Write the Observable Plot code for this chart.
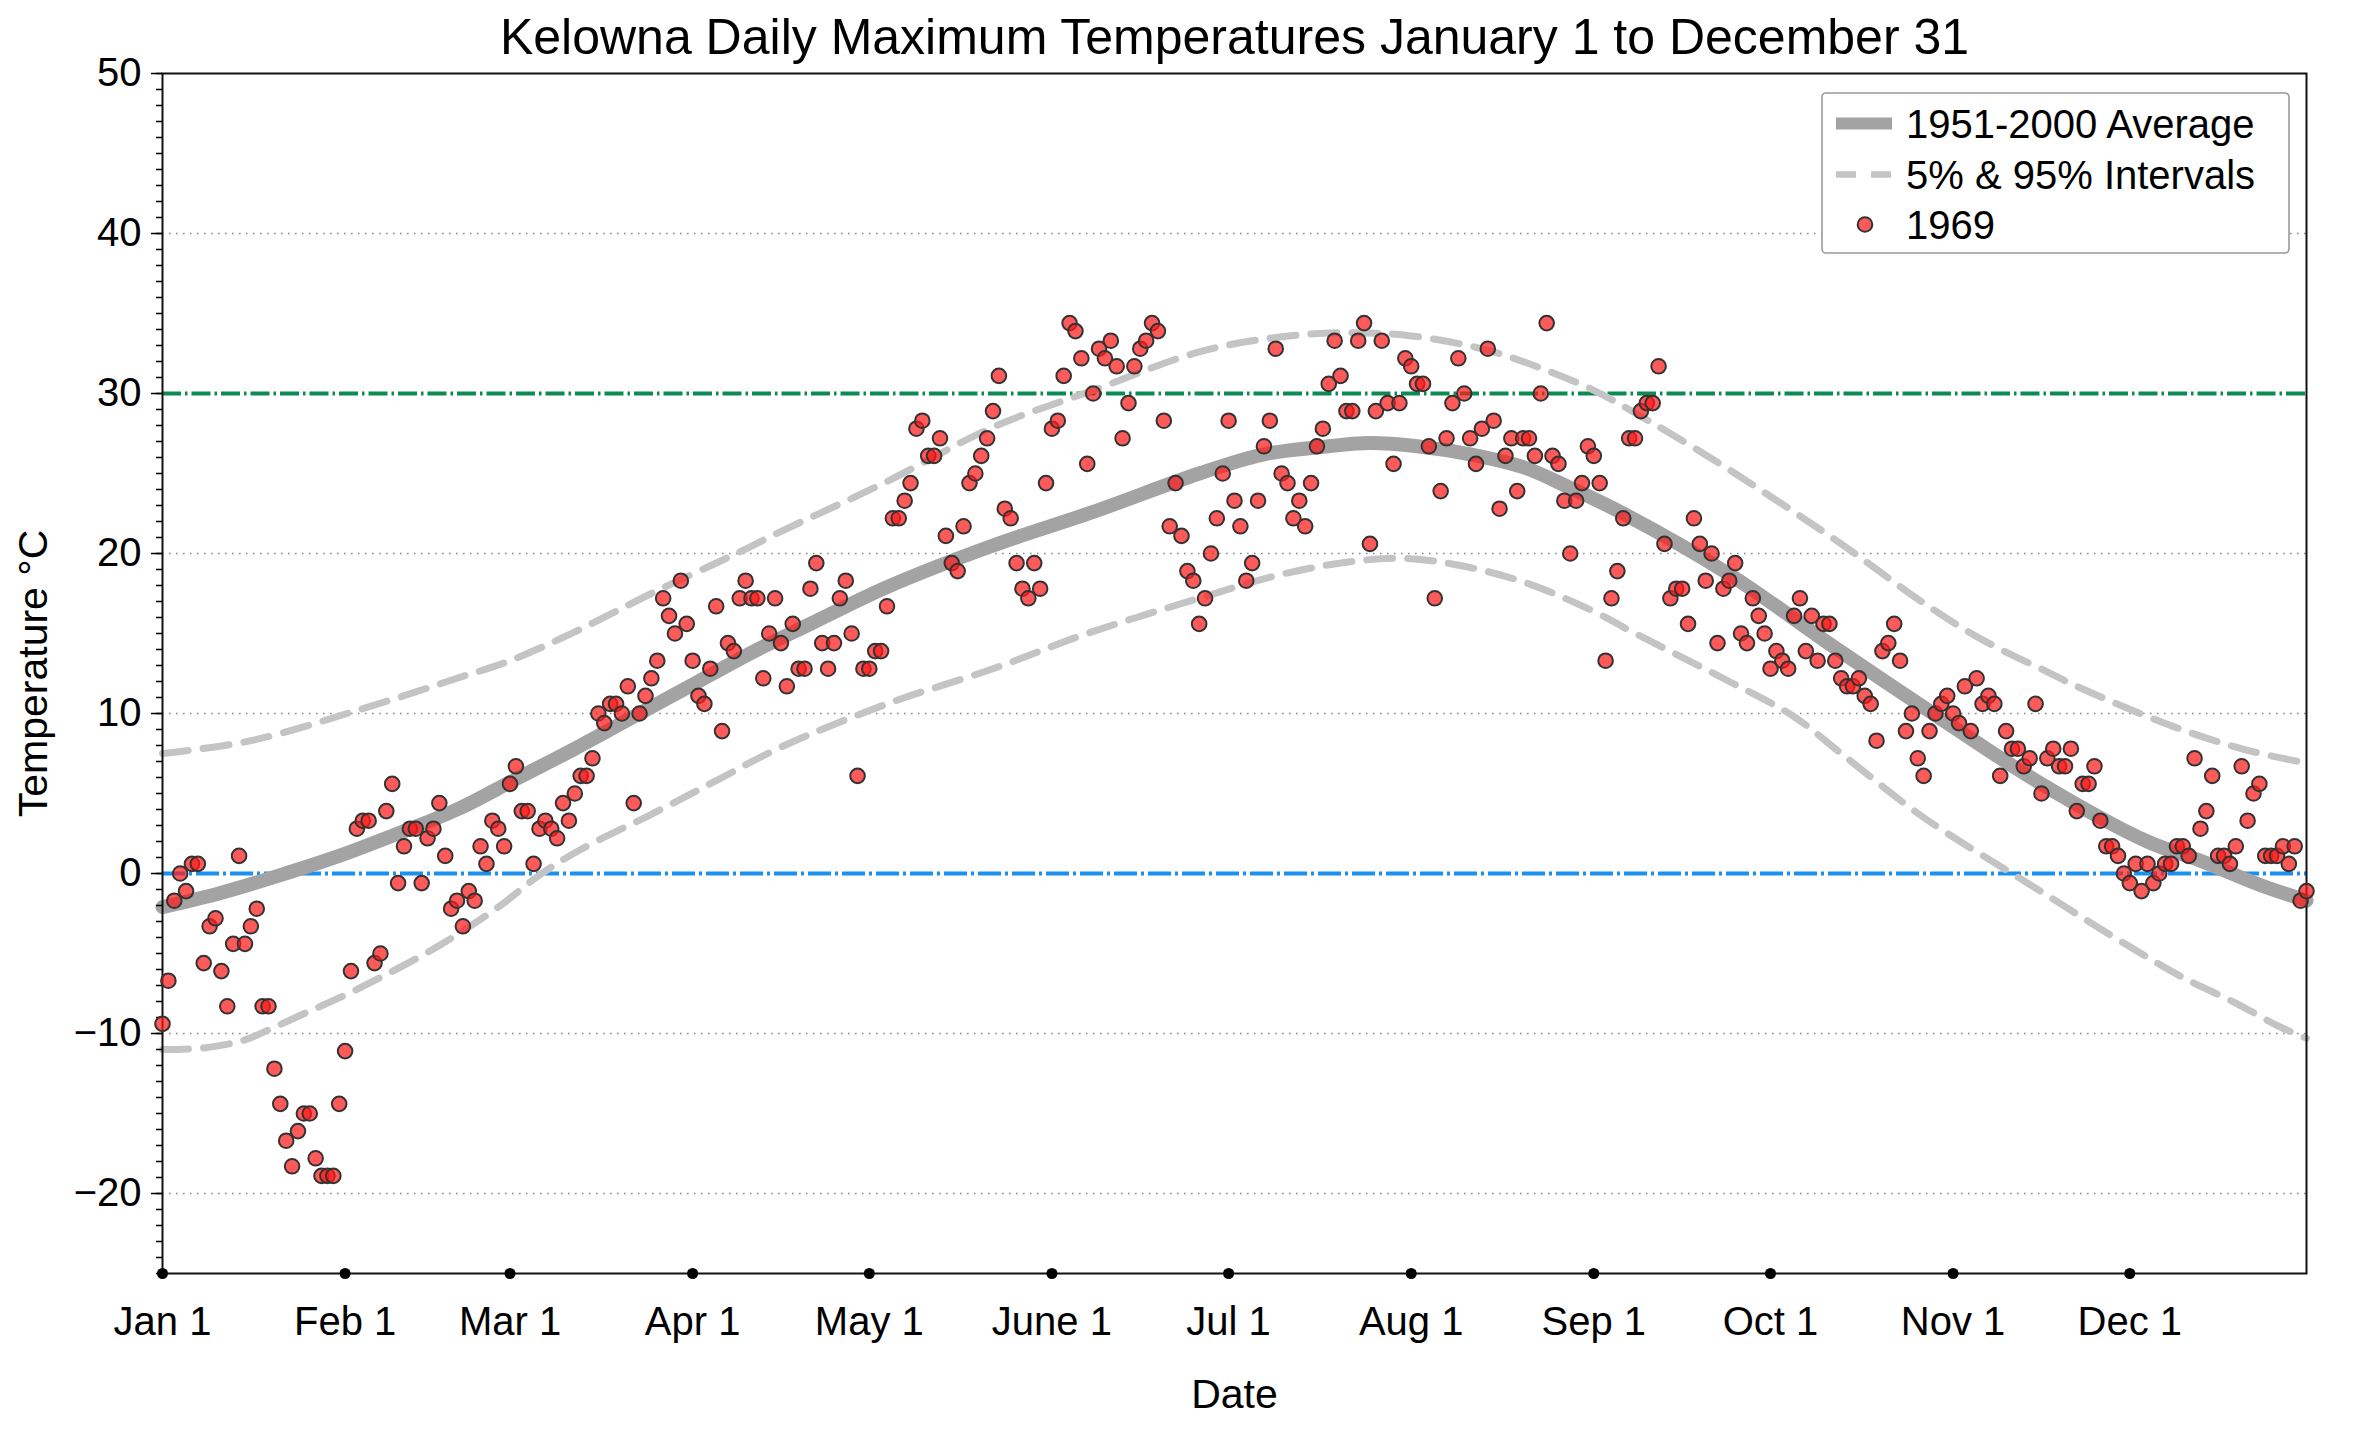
<!DOCTYPE html>
<html>
<head>
<meta charset="utf-8">
<script src="https://cdn.jsdelivr.net/npm/d3@7"></script>
<script src="https://cdn.jsdelivr.net/npm/@observablehq/plot@0.6"></script>
<style>
html, body { margin: 0; padding: 0; background: #fff; }
#chart svg { display: block; }
</style>
</head>
<body>
<div id="chart"></div>
<script>
// ---------- data ----------
const titleText = "Kelowna Daily Maximum Temperatures January 1 to December 31";
const yLabel = "Temperature °C";
const xLabel = "Date";
const seriesLabels = ["1951-2000 Average", "5% & 95% Intervals", "1969"];

// 1969 daily maximum temperatures (°C), Jan 1 .. Dec 31
const temps1969 = [
  -9.4, -6.7, -1.7, 0.0, -1.1, 0.6, 0.6, -5.6, -3.3, -2.8,
  -6.1, -8.3, -4.4, 1.1, -4.4, -3.3, -2.2, -8.3, -8.3, -12.2,
  -14.4, -16.7, -18.3, -16.1, -15.0, -15.0, -17.8, -18.9, -18.9, -18.9,
  -14.4, -11.1, -6.1, 2.8, 3.3, 3.3, -5.6, -5.0, 3.9, 5.6,
  -0.6, 1.7, 2.8, 2.8, -0.6, 2.2, 2.8, 4.4, 1.1, -2.2,
  -1.7, -3.3, -1.1, -1.7, 1.7, 0.6, 3.3, 2.8, 1.7, 5.6,
  6.7, 3.9, 3.9, 0.6, 2.8, 3.3, 2.8, 2.2, 4.4, 3.3,
  5.0, 6.1, 6.1, 7.2, 10.0, 9.4, 10.6, 10.6, 10.0, 11.7,
  4.4, 10.0, 11.1, 12.2, 13.3, 17.2, 16.1, 15.0, 18.3, 15.6,
  13.3, 11.1, 10.6, 12.8, 16.7, 8.9, 14.4, 13.9, 17.2, 18.3,
  17.2, 17.2, 12.2, 15.0, 17.2, 14.4, 11.7, 15.6, 12.8, 12.8,
  17.8, 19.4, 14.4, 12.8, 14.4, 17.2, 18.3, 15.0, 6.1, 12.8,
  12.8, 13.9, 13.9, 16.7, 22.2, 22.2, 23.3, 24.4, 27.8, 28.3,
  26.1, 26.1, 27.2, 21.1, 19.4, 18.9, 21.7, 24.4, 25.0, 26.1,
  27.2, 28.9, 31.1, 22.8, 22.2, 19.4, 17.8, 17.2, 19.4, 17.8,
  24.4, 27.8, 28.3, 31.1, 34.4, 33.9, 32.2, 25.6, 30.0, 32.8,
  32.2, 33.3, 31.7, 27.2, 29.4, 31.7, 32.8, 33.3, 34.4, 33.9,
  28.3, 21.7, 24.4, 21.1, 18.9, 18.3, 15.6, 17.2, 20.0, 22.2,
  25.0, 28.3, 23.3, 21.7, 18.3, 19.4, 23.3, 26.7, 28.3, 32.8,
  25.0, 24.4, 22.2, 23.3, 21.7, 24.4, 26.7, 27.8, 30.6, 33.3,
  31.1, 28.9, 28.9, 33.3, 34.4, 20.6, 28.9, 33.3, 29.4, 25.6,
  29.4, 32.2, 31.7, 30.6, 30.6, 26.7, 17.2, 23.9, 27.2, 29.4,
  32.2, 30.0, 27.2, 25.6, 27.8, 32.8, 28.3, 22.8, 26.1, 27.2,
  23.9, 27.2, 27.2, 26.1, 30.0, 34.4, 26.1, 25.6, 23.3, 20.0,
  23.3, 24.4, 26.7, 26.1, 24.4, 13.3, 17.2, 18.9, 22.2, 27.2,
  27.2, 28.9, 29.4, 29.4, 31.7, 20.6, 17.2, 17.8, 17.8, 15.6,
  22.2, 20.6, 18.3, 20.0, 14.4, 17.8, 18.3, 19.4, 15.0, 14.4,
  17.2, 16.1, 15.0, 12.8, 13.9, 13.3, 12.8, 16.1, 17.2, 13.9,
  16.1, 13.3, 15.6, 15.6, 13.3, 12.2, 11.7, 11.7, 12.2, 11.1,
  10.6, 8.3, 13.9, 14.4, 15.6, 13.3, 8.9, 10.0, 7.2, 6.1,
  8.9, 10.0, 10.6, 11.1, 10.0, 9.4, 11.7, 8.9, 12.2, 10.6,
  11.1, 10.6, 6.1, 8.9, 7.8, 7.8, 6.7, 7.2, 10.6, 5.0,
  7.2, 7.8, 6.7, 6.7, 7.8, 3.9, 5.6, 5.6, 6.7, 3.3,
  1.7, 1.7, 1.1, 0.0, -0.6, 0.6, -1.1, 0.6, -0.6, 0.0,
  0.6, 0.6, 1.7, 1.7, 1.1, 7.2, 2.8, 3.9, 6.1, 1.1,
  1.1, 0.6, 1.7, 6.7, 3.3, 5.0, 5.6, 1.1, 1.1, 1.1,
  1.7, 0.6, 1.7, -1.7, -1.1
];

// 1951-2000 average, read at sample days (day 0 = Jan 1)
const avgDays  = [0, 10, 20, 30, 40, 50, 60, 70, 80, 90, 100, 110, 123, 141, 158, 176, 187, 198, 205, 213, 222, 231, 239, 248, 266, 284, 301, 319, 337, 346, 356, 364];
const avgTemps = [-2.1, -1.2, -0.1, 1.1, 2.5, 4.0, 5.9, 7.8, 9.8, 11.8, 13.8, 15.6, 17.9, 20.5, 22.6, 25.0, 26.2, 26.7, 26.9, 26.7, 26.2, 25.4, 24.1, 22.5, 18.7, 14.1, 9.9, 5.6, 2.0, 0.8, -0.7, -1.7];

// 95% interval
const highDays  = [0, 15, 34, 50, 59, 70, 83, 98, 104, 123, 141, 158, 176, 189, 201, 212, 225, 236, 243, 249, 264, 285, 299, 309, 320, 325, 342, 354, 364];
const highTemps = [7.5, 8.3, 10.3, 12.2, 13.3, 15.1, 17.5, 20.1, 21.2, 24.5, 27.9, 30.2, 32.6, 33.5, 33.8, 33.6, 32.7, 31.3, 30.2, 29.0, 25.7, 20.6, 16.9, 14.6, 12.6, 11.7, 9.1, 7.7, 6.9];

// 5% interval
const lowDays  = [0, 7, 14, 19, 25, 31, 37, 47, 57, 64, 71, 83, 94, 105, 123, 141, 157, 176, 190, 202, 211, 221, 232, 244, 249, 266, 277, 285, 299, 314, 321, 327, 335, 343, 352, 359, 364];
const lowTemps = [-11.0, -10.9, -10.4, -9.6, -8.6, -7.6, -6.5, -4.5, -2.1, -0.1, 1.5, 3.7, 5.8, 7.9, 10.6, 12.8, 15.0, 17.2, 18.7, 19.5, 19.7, 19.2, 18.1, 16.2, 15.2, 12.0, 9.8, 7.5, 3.5, 0.0, -1.6, -3.0, -4.8, -6.5, -8.1, -9.5, -10.3];

const monthLabels = ["Jan 1", "Feb 1", "Mar 1", "Apr 1", "May 1", "June 1", "Jul 1", "Aug 1", "Sep 1", "Oct 1", "Nov 1", "Dec 1"];
const yTicks = [-20, -10, 0, 10, 20, 30, 40, 50];
const gridLevels = [-20, -10, 10, 20, 40];
const hotLevel = [30];
const freezeLevel = [0];

// ---------- build tables ----------
const YEAR = 1969;
const dayDate = (d) => new Date(Date.UTC(YEAR, 0, 1 + d));
const obs = temps1969.map((t, i) => ({date: dayDate(i), t}));
const avg = avgDays.map((d, i) => ({date: dayDate(d), t: avgTemps[i]}));
const high = highDays.map((d, i) => ({date: dayDate(d), t: highTemps[i]}));
const low = lowDays.map((d, i) => ({date: dayDate(d), t: lowTemps[i]}));
const monthStarts = monthLabels.map((_, m) => new Date(Date.UTC(YEAR, m, 1)));
const minorTicks = d3.range(-25, 51, 1);

const FONT = "'Liberation Sans', Arial, Helvetica, sans-serif";
const fmtY = (d) => d < 0 ? "\u2212" + Math.abs(d) : String(d);

const W = 2360, H = 1432;
const mL = 162, mR = 54, mT = 73, mB = 159;

const AVG_COLOR = "#a3a3a3", BAND_COLOR = "#c4c4c4";
const BAND_DASH = "26,15";
const DOT_R = 7.3;

const chart = Plot.plot({
  width: W,
  height: H,
  marginLeft: mL,
  marginRight: mR,
  marginTop: mT,
  marginBottom: mB,
  style: {fontFamily: FONT, fontSize: "40px", background: "#fff", color: "#000", overflow: "visible"},
  x: {type: "utc", domain: [dayDate(0), dayDate(364)]},
  y: {domain: [-25, 50]},
  marks: [
    Plot.ruleY(gridLevels, {stroke: "#8a8a8a", strokeWidth: 1.6, strokeDasharray: "1.6,5.4"}),
    Plot.ruleY(hotLevel, {stroke: "#0b8a52", strokeWidth: 4, strokeDasharray: "19,4,2.5,4"}),
    Plot.ruleY(freezeLevel, {stroke: "#1a90f0", strokeWidth: 4, strokeDasharray: "23,4,3,4"}),
    Plot.line(high, {x: "date", y: "t", curve: "catmull-rom", stroke: BAND_COLOR, strokeWidth: 7, strokeDasharray: BAND_DASH}),
    Plot.line(low, {x: "date", y: "t", curve: "catmull-rom", stroke: BAND_COLOR, strokeWidth: 7, strokeDasharray: BAND_DASH}),
    Plot.line(avg, {x: "date", y: "t", curve: "catmull-rom", stroke: AVG_COLOR, strokeWidth: 14}),
    Plot.frame({stroke: "#111", strokeWidth: 2}),
    Plot.axisY(minorTicks, {tickSize: 6, tickFormat: () => "", label: null, strokeWidth: 1.5}),
    Plot.axisY(yTicks, {tickSize: 11, tickPadding: 10, tickFormat: fmtY, label: null, fontSize: 40, strokeWidth: 1.5}),
    Plot.axisX(monthStarts, {tickSize: 0, tickPadding: 33, tickFormat: (d) => monthLabels[d.getUTCMonth()], label: null, fontSize: 40}),
    Plot.dot(monthStarts, {x: (d) => d, y: -25, r: 5.5, fill: "#000", stroke: "none"}),
    Plot.dot(obs, {x: "date", y: "t", r: DOT_R, fill: "#ff1a1a", fillOpacity: 0.72, stroke: "#333", strokeWidth: 2}),
    Plot.text([titleText], {text: (d) => d, frameAnchor: "top", lineAnchor: "middle", textAnchor: "middle", dy: -36, fontSize: 50}),
    Plot.text([xLabel], {text: (d) => d, frameAnchor: "bottom", lineAnchor: "middle", textAnchor: "middle", dy: 121, fontSize: 41}),
    Plot.text([yLabel], {text: (d) => d, frameAnchor: "left", lineAnchor: "middle", textAnchor: "middle", dx: -129, rotate: -90, fontSize: 41})
  ]
});

document.getElementById("chart").append(chart);

// ---------- legend (drawn into the same SVG) ----------
const svg = d3.select(chart);
const lg = svg.append("g").attr("font-family", FONT).attr("font-size", 40)
  .attr("text-anchor", "start");
lg.append("rect").attr("x", 1822).attr("y", 93).attr("width", 467).attr("height", 160)
  .attr("rx", 4).attr("fill", "#fff").attr("stroke", "#999").attr("stroke-width", 1.6);
const rowY = [123.5, 174.5, 224.5];
lg.append("path").attr("d", `M1836,${rowY[0]}H1892`).attr("fill", "none")
  .attr("stroke", AVG_COLOR).attr("stroke-width", 12);
lg.append("path").attr("d", `M1836,${rowY[1]}H1892`).attr("fill", "none")
  .attr("stroke", BAND_COLOR).attr("stroke-width", 6.5).attr("stroke-dasharray", "20,15");
lg.append("circle").attr("cx", 1865).attr("cy", rowY[2]).attr("r", DOT_R)
  .attr("fill", "#ff1a1a").attr("fill-opacity", 0.72).attr("stroke", "#333").attr("stroke-width", 2);
seriesLabels.forEach((s, i) => {
  lg.append("text").attr("x", 1906).attr("y", rowY[i]).attr("dy", "0.35em")
    .attr("fill", "#000").attr("text-anchor", "start").text(s);
});
</script>
</body>
</html>
